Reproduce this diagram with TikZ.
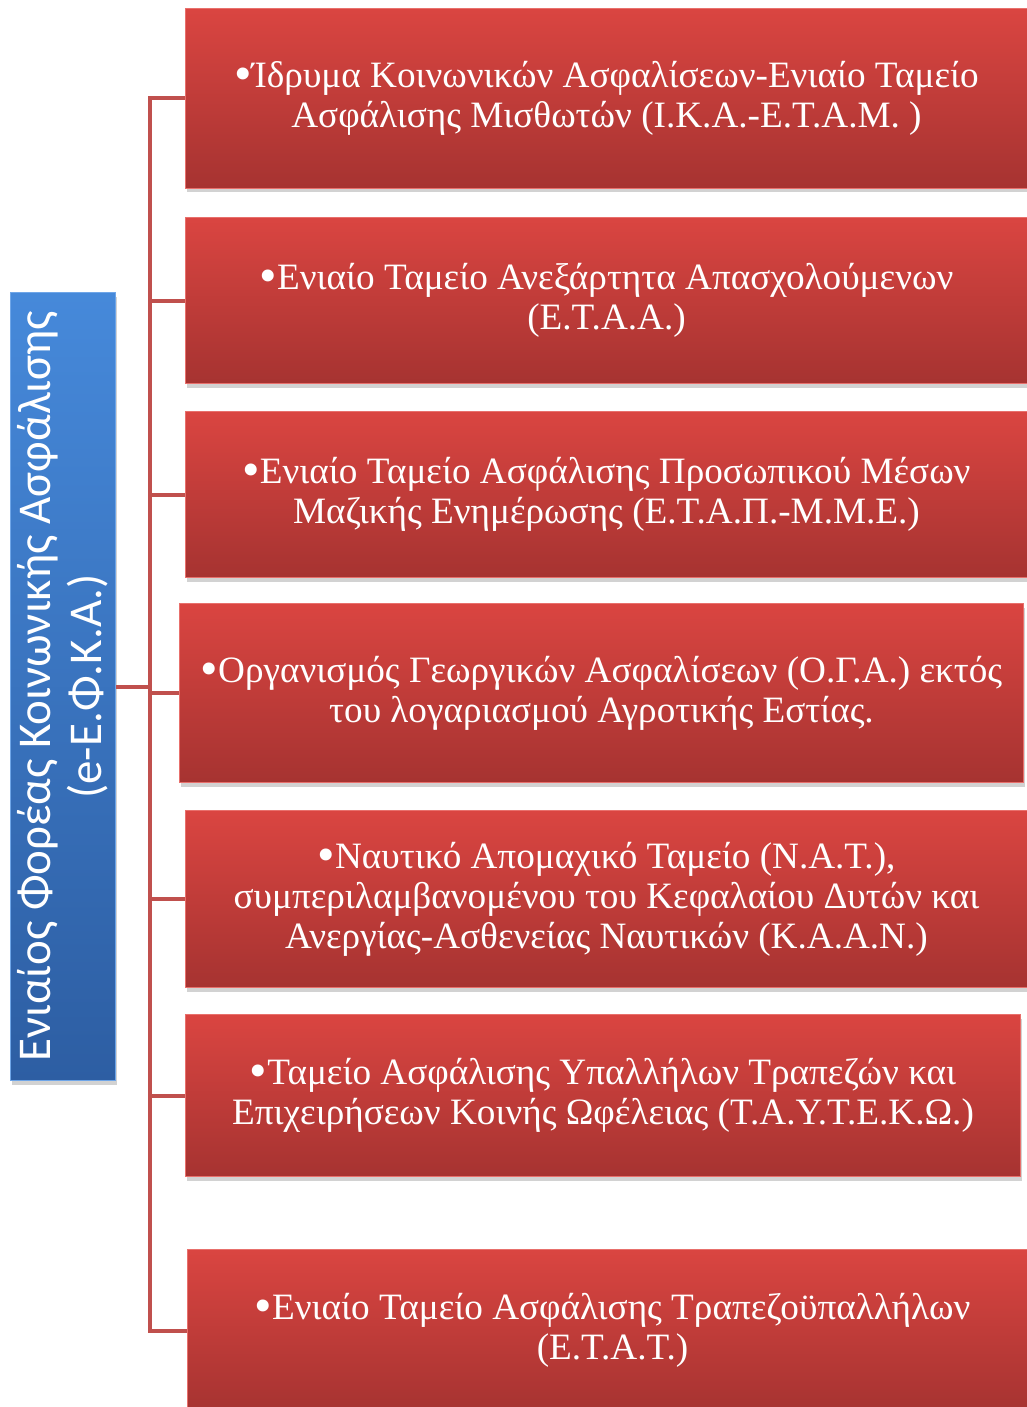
\documentclass[tikz,border=0pt]{standalone}
\usepackage{fontspec}
\setmainfont{Liberation Serif}
\newfontfamily\rootfont{Carlito}
\usetikzlibrary{shadows}

\definecolor{boxtop}{HTML}{DA4541}
\definecolor{boxbot}{HTML}{A63331}
\definecolor{boxedge}{HTML}{E8706C}
\definecolor{roottop}{HTML}{4689DA}
\definecolor{rootbot}{HTML}{2D5EA3}
\definecolor{rootedge}{HTML}{6FA6E8}
\definecolor{linered}{HTML}{C0504D}

\newcommand{\fundbul}{\raisebox{-3pt}{\fontsize{50}{40}\selectfont •}}

\tikzset{
    fundbox/.style={anchor=north west, rectangle, inner sep=0pt,
        top color=boxtop, bottom color=boxbot, draw=boxedge, line width=1pt,
        text=white, align=center, font=\fontsize{37.2}{40}\selectfont,
        drop shadow={opacity=0.35, shadow xshift=1pt, shadow yshift=-4pt}},
    rootbox/.style={anchor=north west, rectangle, inner sep=0pt,
        top color=roottop, bottom color=rootbot, draw=rootedge, line width=1pt,
        drop shadow={opacity=0.35, shadow xshift=1pt, shadow yshift=-4pt}},
    conn/.style={draw=linered, line width=4pt}
}

\begin{document}
\begin{tikzpicture}[x=1pt, y=-1pt]
    \useasboundingbox (0,0) rectangle (1027,1407);
    \fill[white] (0,0) rectangle (1027,1407);
    \coordinate (trunk) at (150,0);

    % the seven funds
    \node[fundbox, minimum width=842pt, minimum height=180pt] (b1) at (185,8)
        {\fundbul Ίδρυμα Κοινωνικών Ασφαλίσεων-Ενιαίο Ταμείο\\Ασφάλισης Μισθωτών (Ι.Κ.Α.-Ε.Τ.Α.Μ. )};
    \node[fundbox, minimum width=842pt, minimum height=166pt] (b2) at (185,217)
        {\fundbul Ενιαίο Ταμείο Ανεξάρτητα Απασχολούμενων\\(Ε.Τ.Α.Α.)};
    \node[fundbox, minimum width=842pt, minimum height=166pt] (b3) at (185,411)
        {\fundbul Ενιαίο Ταμείο Ασφάλισης Προσωπικού Μέσων\\Μαζικής Ενημέρωσης (Ε.Τ.Α.Π.-Μ.Μ.Ε.)};
    \node[fundbox, minimum width=844pt, minimum height=179pt] (b4) at (179,603)
        {\fundbul Οργανισμός Γεωργικών Ασφαλίσεων (Ο.Γ.Α.) εκτός\\του λογαριασμού Αγροτικής Εστίας.};
    \node[fundbox, minimum width=842pt, minimum height=177pt] (b5) at (185,810)
        {\fundbul Ναυτικό Απομαχικό Ταμείο (Ν.Α.Τ.),\\συμπεριλαμβανομένου του Κεφαλαίου Δυτών και\\Ανεργίας-Ασθενείας Ναυτικών (Κ.Α.Α.Ν.)};
    \node[fundbox, minimum width=835pt, minimum height=162pt] (b6) at (185,1014)
        {\fundbul Ταμείο Ασφάλισης Υπαλλήλων Τραπεζών και\\Επιχειρήσεων Κοινής Ωφέλειας (Τ.Α.Υ.Τ.Ε.Κ.Ω.)};
    \node[fundbox, minimum width=850pt, minimum height=162pt] (b7) at (187,1249)
        {\fundbul Ενιαίο Ταμείο Ασφάλισης Τραπεζοϋπαλλήλων\\(Ε.Τ.Α.Τ.)};

    % the root
    \node[rootbox, minimum width=105pt, minimum height=788pt] (root) at (10,292) {};
    \node[rotate=90, text=white, align=center, font=\rootfont\fontsize{47}{51}\selectfont]
        (rootlabel) at (root.center) {Ενιαίος Φορέας Κοινωνικής Ασφάλισης\\(e-Ε.Φ.Κ.Α.)};

    % connectors
    \foreach \i in {1,...,7}
        \draw[conn] (root.east) -- (root.east -| trunk) |- (b\i.west);
\end{tikzpicture}
\end{document}
